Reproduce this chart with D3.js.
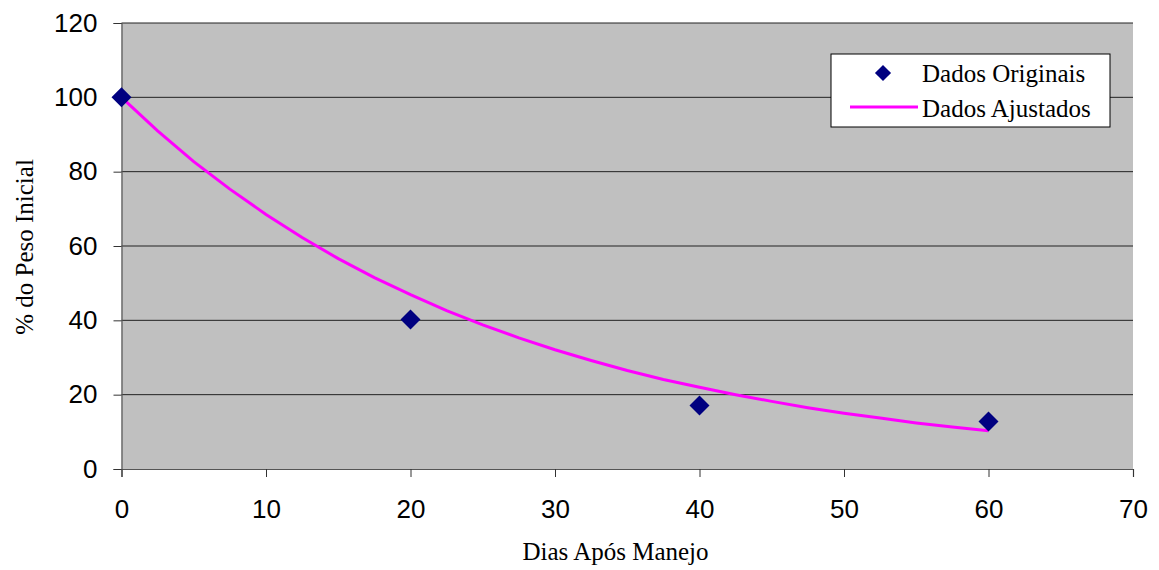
<!DOCTYPE html>
<meta charset="utf-8">
<script src="https://d3js.org/d3.v7.min.js"></script>
<style>
  body { margin: 0; background: #fff; }
</style>
<div id="my_dataviz"></div>
<script>
// data
var diasOrig = [0, 20, 40, 60];
var pesoOrig = [100, 40.2, 17.1, 12.8];

var diasAjust = [0, 2.5, 5, 7.5, 10, 12.5, 15, 17.5, 20, 22.5, 25, 27.5, 30,
                 32.5, 35, 37.5, 40, 42.5, 45, 47.5, 50, 52.5, 55, 57.5, 60];
var pesoAjust = [100, 91.0, 82.7, 75.3, 68.5, 62.3, 56.6, 51.5, 46.9, 42.6, 38.8, 35.3, 32.1,
                 29.2, 26.5, 24.1, 22.0, 20.0, 18.2, 16.5, 15.0, 13.7, 12.4, 11.3, 10.3];

var xTicks = [0, 10, 20, 30, 40, 50, 60, 70];
var yTicks = [0, 20, 40, 60, 80, 100, 120];

var margin = {top: 23, right: 26, bottom: 101, left: 121.5},
    width = 1159 - margin.left - margin.right,
    height = 570 - margin.top - margin.bottom;

var svg = d3.select("#my_dataviz")
  .append("svg")
    .attr("width", 1159)
    .attr("height", 570)
  .append("g")
    .attr("transform", "translate(" + margin.left + "," + margin.top + ")");

var x = d3.scaleLinear().domain([0, 70]).range([0, width]);
var y = d3.scaleLinear().domain([0, 120]).range([height, 0]);

// plot background
svg.append("rect")
  .attr("width", width)
  .attr("height", height)
  .attr("fill", "#c0c0c0");

// horizontal gridlines
svg.selectAll("grid")
  .data(yTicks.filter(function(d) { return d > 0; }))
  .enter()
  .append("line")
    .attr("x1", 0)
    .attr("x2", width)
    .attr("y1", function(d) { return y(d); })
    .attr("y2", function(d) { return y(d); })
    .attr("stroke", "#222")
    .attr("stroke-width", 1);

// X axis
var xAxis = svg.append("g")
  .attr("transform", "translate(0," + height + ")")
  .call(d3.axisBottom(x).tickValues(xTicks).tickSize(8).tickPadding(23));
xAxis.selectAll("text")
  .style("font-family", "Arial, 'Liberation Sans', sans-serif")
  .style("font-size", "26px")
  .attr("fill", "#000");

// Y axis
var yAxis = svg.append("g")
  .call(d3.axisLeft(y).tickValues(yTicks).tickSize(8).tickPadding(16));
yAxis.selectAll("text")
  .style("font-family", "Arial, 'Liberation Sans', sans-serif")
  .style("font-size", "26px")
  .attr("fill", "#000");

svg.selectAll(".domain").attr("stroke", "#555").attr("stroke-width", 1.2);
svg.selectAll(".tick line").attr("stroke", "#333");

// fitted line
var line = d3.line()
  .x(function(d, i) { return x(diasAjust[i]); })
  .y(function(d) { return y(d); });

svg.append("path")
  .datum(pesoAjust)
  .attr("fill", "none")
  .attr("stroke", "#ff00ff")
  .attr("stroke-width", 3)
  .attr("d", line);

// original points (diamonds)
var diamond = d3.symbol().type(d3.symbolSquare).size(200);
svg.selectAll("pts")
  .data(pesoOrig)
  .enter()
  .append("path")
    .attr("d", diamond)
    .attr("transform", function(d, i) {
      return "translate(" + x(diasOrig[i]) + "," + y(d) + ") rotate(45)";
    })
    .attr("fill", "#000080");

// axis titles
svg.append("text")
  .attr("x", 615.5 - margin.left)
  .attr("y", 560 - margin.top)
  .attr("text-anchor", "middle")
  .style("font-family", "'Times New Roman', 'Liberation Serif', serif")
  .style("font-size", "25px")
  .text("Dias Após Manejo");

svg.append("text")
  .attr("transform", "rotate(-90)")
  .attr("x", -(247 - margin.top))
  .attr("y", 33 - margin.left)
  .attr("text-anchor", "middle")
  .style("font-family", "'Times New Roman', 'Liberation Serif', serif")
  .style("font-size", "25px")
  .text("% do Peso Inicial");

// legend
var lg = svg.append("g")
  .attr("transform", "translate(" + (831 - margin.left) + "," + (54 - margin.top) + ")");
lg.append("rect")
  .attr("width", 279)
  .attr("height", 73)
  .attr("fill", "#fff")
  .attr("stroke", "#000")
  .attr("stroke-width", 1);
lg.append("path")
  .attr("d", d3.symbol().type(d3.symbolSquare).size(130))
  .attr("transform", "translate(52,19) rotate(45)")
  .attr("fill", "#000080");
lg.append("line")
  .attr("x1", 19).attr("x2", 87)
  .attr("y1", 53).attr("y2", 53)
  .attr("stroke", "#ff00ff")
  .attr("stroke-width", 3);
lg.selectAll("lgtext")
  .data(["Dados Originais", "Dados Ajustados"])
  .enter()
  .append("text")
    .attr("x", 91)
    .attr("y", function(d, i) { return 28 + i * 35; })
    .style("font-family", "'Times New Roman', 'Liberation Serif', serif")
    .style("font-size", "25px")
    .text(function(d) { return d; });
</script>
